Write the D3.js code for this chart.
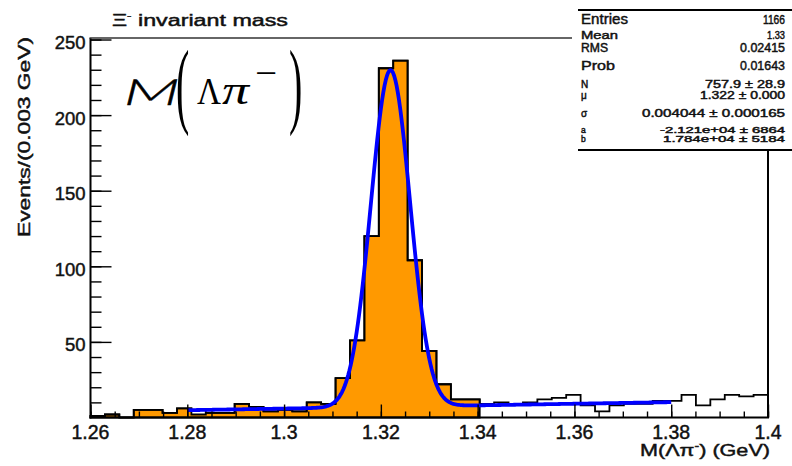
<!DOCTYPE html>
<html>
<head>
<meta charset="utf-8">
<script src="https://cdn.jsdelivr.net/npm/d3@7"></script>
<style>
  html, body { margin: 0; padding: 0; background: #fff; }
  svg { display: block; }
  .lbl { fill: #111; stroke: #111; stroke-width: 0.45px; }
</style>
</head>
<body>
<svg id="chart" width="792" height="466"></svg>
<script>
// ---- data ---------------------------------------------------------------
// Xi- candidates: 47 bins over [1.26, 1.40] GeV
const xMin = 1.26, xMax = 1.40, nBins = 47;
const counts = [1, 2, 0, 5, 5, 3, 6, 5, 3, 3, 9, 7, 4, 5, 4, 10, 9, 26, 51, 120,
                231, 236, 104, 44, 22, 12, 12, 9, 10, 9, 10, 12, 13, 15, 8, 4, 8, 9,
                9, 11, 11, 15, 8, 12, 15, 14, 15];
// filled sub-sample, first 27 bins (up to 1.34 GeV)
const selCounts = [1, 2, 0, 5, 5, 3, 6, 2, 3, 3, 9, 7, 4, 5, 4, 10, 9, 26, 51, 120,
                   231, 236, 104, 44, 22, 12, 12];

const xTicks = [1.26, 1.28, 1.30, 1.32, 1.34, 1.36, 1.38, 1.40];
const xTickLabels = ["1.26", "1.28", "1.3", "1.32", "1.34", "1.36", "1.38", "1.4"];
const yTicks = [50, 100, 150, 200, 250];
const yTickLabels = ["50", "100", "150", "200", "250"];

const statNames = ["Entries", "Mean", "RMS", "Prob", "N", "μ", "σ", "a", "b"];
const statValues = ["1166", "1.33", "0.02415", "0.01643", "757.9 ± 28.9", "1.322 ± 0.000",
                    "0.004044 ± 0.000165", "-2.121e+04 ± 6864", "1.784e+04 ± 5184"];

// Gaussian + linear background fit
const fitN = 757.9, fitMu = 1.322, fitSigma = 0.004044, fitA = -2.121e4, fitB = 1.784e4;
const fitRange = [1.28, 1.38];

// ---- layout -------------------------------------------------------------
const frame = { left: 90.5, right: 768, top: 38, bottom: 417.5 };
const orange = "#ff9900";
const sans = "'Liberation Sans', Arial, Helvetica, sans-serif";
const serif = "'Liberation Serif', 'Times New Roman', serif";
const mathSans = "Lato, 'Open Sans', sans-serif";

const svg = d3.select("#chart");
const x = d3.scaleLinear().domain([xMin, xMax]).range([frame.left, frame.right]);
const y = d3.scaleLinear().domain([0, 251]).range([frame.bottom, frame.top]);
const binW = (xMax - xMin) / nBins;
const edge = i => xMin + i * binW;

function stepPath(vals) {
  const p = d3.path();
  p.moveTo(x(edge(0)), y(0));
  vals.forEach((v, i) => {
    p.lineTo(x(edge(i)), y(v));
    p.lineTo(x(edge(i + 1)), y(v));
  });
  p.lineTo(x(edge(vals.length)), y(0));
  return p.toString();
}

// filled sub-sample
svg.append("path")
  .attr("d", stepPath(selCounts) + "Z")
  .attr("fill", orange)
  .attr("stroke", "#000")
  .attr("stroke-width", 1.8);

// full histogram outline
svg.append("path")
  .attr("d", stepPath(counts))
  .attr("fill", "none")
  .attr("stroke", "#000")
  .attr("stroke-width", 1.8);

// fit curve
const fitFn = m => binW * (fitN * Math.exp(-0.5 * ((m - fitMu) / fitSigma) ** 2) /
                  (fitSigma * Math.sqrt(2 * Math.PI)) + fitA + fitB * m);
const fitPts = d3.range(0, 401).map(i => fitRange[0] + (fitRange[1] - fitRange[0]) * i / 400);
svg.append("path")
  .attr("d", d3.line().x(m => x(m)).y(m => y(fitFn(m)))(fitPts))
  .attr("fill", "none")
  .attr("stroke", "#0000ff")
  .attr("stroke-width", 3.8)
  .attr("stroke-linejoin", "round");

// ---- axes ---------------------------------------------------------------
const axes = svg.append("g").attr("stroke", "#000").attr("fill", "none");

// x ticks (inward)
const xMinor = d3.range(0, 29).map(i => xMin + i * 0.005);
axes.append("g").attr("transform", `translate(0,${frame.bottom})`)
  .call(d3.axisBottom(x).tickValues(xMinor).tickSize(-6).tickFormat(""))
  .call(g => g.select(".domain").remove());
axes.append("g").attr("transform", `translate(0,${frame.bottom})`)
  .call(d3.axisBottom(x).tickValues(xTicks).tickSize(-13).tickFormat(""))
  .call(g => g.select(".domain").remove());

// y ticks (inward)
const yMinor = d3.range(10, 251, 10);
axes.append("g").attr("transform", `translate(${frame.left},0)`)
  .call(d3.axisLeft(y).tickValues(yMinor).tickSize(-11).tickFormat(""))
  .call(g => g.select(".domain").remove());
axes.append("g").attr("transform", `translate(${frame.left},0)`)
  .call(d3.axisLeft(y).tickValues(yTicks).tickSize(-21).tickFormat(""))
  .call(g => g.select(".domain").remove());
axes.selectAll("line").attr("stroke", "#000").attr("stroke-width", 1.4);

// frame
const fr = svg.append("g").attr("stroke", "#000").attr("stroke-width", 2).attr("fill", "none");
fr.append("line").attr("x1", frame.left).attr("x2", frame.left).attr("y1", frame.top).attr("y2", frame.bottom + 1);
fr.append("line").attr("x1", frame.left - 1).attr("x2", frame.right + 1).attr("y1", frame.bottom).attr("y2", frame.bottom);
fr.append("line").attr("x1", frame.right).attr("x2", frame.right).attr("y1", frame.top).attr("y2", frame.bottom);
fr.append("line").attr("x1", frame.left - 1).attr("x2", frame.right).attr("y1", frame.top).attr("y2", frame.top)
  .attr("stroke", "#333").attr("stroke-width", 1.6);

// tick labels
svg.append("g").selectAll("text").data(xTicks).join("text")
  .attr("class", "lbl")
  .attr("x", d => x(d)).attr("y", 438.5)
  .attr("text-anchor", "middle")
  .attr("font-family", sans).attr("font-size", 19.5)
  .text((d, i) => xTickLabels[i]);

svg.append("g").selectAll("text").data(yTicks).join("text")
  .attr("class", "lbl")
  .attr("x", 85.5).attr("y", d => y(d) + 9.5)
  .attr("text-anchor", "end")
  .attr("font-family", sans).attr("font-size", 18.5)
  .text((d, i) => yTickLabels[i]);

function addText(parent, px, py, str, o) {
  const t = parent.append("text").attr("x", px).attr("y", py)
    .attr("font-family", o.family || sans).attr("font-size", o.size)
    .attr("text-anchor", o.anchor || "start");
  if (o.cls) t.attr("class", o.cls);
  if (o.style) t.attr("font-style", o.style);
  if (o.weight) t.attr("font-weight", o.weight);
  if (o.len) t.attr("textLength", o.len).attr("lengthAdjust", "spacingAndGlyphs");
  t.text(str);
  return t;
}

// axis titles
const xt = svg.append("text").attr("class", "lbl").attr("x", 770).attr("y", 455.5)
  .attr("text-anchor", "end").attr("font-family", sans).attr("font-size", 17)
  .attr("textLength", 130).attr("lengthAdjust", "spacingAndGlyphs");
xt.append("tspan").text("M(Λπ");
xt.append("tspan").attr("font-size", 11).attr("dy", -7).text("-");
xt.append("tspan").attr("dy", 7).text(") (GeV)");

svg.append("text").attr("class", "lbl")
  .attr("transform", "translate(29.5,237) rotate(-90)")
  .attr("font-family", sans).attr("font-size", 17)
  .attr("textLength", 200).attr("lengthAdjust", "spacingAndGlyphs")
  .text("Events/(0.003 GeV)");

// title
const tt = svg.append("text").attr("class", "lbl").attr("x", 112).attr("y", 26)
  .attr("font-family", sans).attr("font-size", 16)
  .attr("textLength", 176).attr("lengthAdjust", "spacingAndGlyphs");
tt.append("tspan").text("Ξ");
tt.append("tspan").attr("font-size", 9).attr("dy", -7).text("-");
tt.append("tspan").attr("dy", 7).text(" invariant mass");

// ---- statistics box ------------------------------------------------------
const sb = svg.append("g");
sb.append("rect").attr("x", 572).attr("y", 9).attr("width", 220).attr("height", 142).attr("fill", "#fff");
sb.append("line").attr("x1", 578).attr("x2", 792).attr("y1", 10).attr("y2", 10).attr("stroke", "#000").attr("stroke-width", 2);
sb.append("line").attr("x1", 578).attr("x2", 792).attr("y1", 150).attr("y2", 150).attr("stroke", "#000").attr("stroke-width", 2);
// right frame below the box
svg.append("line").attr("x1", frame.right).attr("x2", frame.right).attr("y1", 151).attr("y2", frame.bottom)
  .attr("stroke", "#000").attr("stroke-width", 2);

const rowBase = [24.3, 39, 52.3, 70, 87.7, 98.5, 116.7, 133, 142.3];
const nameSize = [14, 11, 12, 13, 10, 10, 10, 8.5, 8.5];
const valSize = [12, 11, 12, 13, 10, 10, 10, 8.5, 8.5];
const nameLen = [47, 37, 27, 34, null, null, null, null, null];
const valLen = [22, 18, 45, 45, 80, 85, 143, 125, 122];
statNames.forEach((n, i) => {
  addText(sb, 581, rowBase[i], n, { size: nameSize[i], len: nameLen[i], cls: "lbl" });
  addText(sb, 785, rowBase[i], statValues[i], { size: valSize[i], anchor: "end", len: valLen[i], cls: "lbl" });
});

// ---- M(Λπ-) formula ------------------------------------------------------
const fm = svg.append("g").attr("fill", "#000");
// slanted M, skewed about its own baseline
const mSlant = fm.append("g").attr("transform", "translate(121,104.5) skewX(-14)");
addText(mSlant, 0, 0, "M", { size: 36, family: mathSans, weight: 300, len: 56 })
  .attr("stroke", "#000").attr("stroke-width", 0.4);
fm.append("text").attr("transform", "translate(176,116) scale(1,2.4)")
  .attr("font-family", serif).attr("font-size", 40).text("(");
addText(fm, 197, 104, "Λ", { size: 37, family: serif, len: 24 });
addText(fm, 222, 104, "π", { size: 40, family: serif, style: "italic", len: 27 });
addText(fm, 255, 84.5, "−", { size: 36, family: serif, len: 22 });
fm.append("text").attr("transform", "translate(289,116) scale(1,2.4)")
  .attr("font-family", serif).attr("font-size", 40).text(")");
</script>
</body>
</html>
